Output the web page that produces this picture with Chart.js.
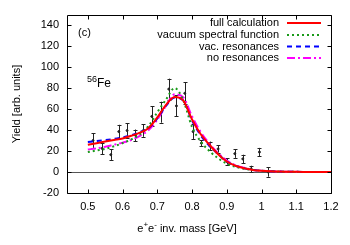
<!DOCTYPE html>
<html><head><meta charset="utf-8">
<script src="https://cdn.jsdelivr.net/npm/chart.js@4"></script>
<style>html,body{margin:0;padding:0;background:#fff}#w{width:350px;height:245px}</style>
</head><body><div id="w"><canvas id="c" width="350" height="245"></canvas></div>
<script>
// ---- data ----
const massGrid = [0.5,0.525,0.55,0.575,0.6,0.625,0.65,0.675,0.7,0.725,0.75,0.775,0.8,0.825,0.85,0.875,0.9,0.925,0.95,0.975,1.0,1.025,1.05,1.075,1.1,1.125,1.15,1.175,1.2];
const fullCalc   = [26,27.5,29,30.5,32,34.5,37.5,42,52,64,71.5,68,50,36,26,17,10,6,3.5,2,1.2,0.7,0.4,0.25,0.15,0.1,0.05,0.03,0];
const vacSpectral= [19,20.5,22,24.5,27.5,31,36,44,57,69,80,68,43,29,20,13,8,5,3,2,1.2,0.7,0.4,0.25,0.15,0.1,0.05,0.03,0];
const vacReson   = [28.5,29.5,30.5,31.5,33,35,38,42,51,63,71,68,49,35,25,17,10,6,3.5,2,1.2,0.7,0.4,0.25,0.15,0.1,0.05,0.03,0];
const noReson    = [21.5,22.5,24,26,28,30.5,34.5,40,50,63,74,71,53,38,27,18,11,6.5,4,2.2,1.3,0.8,0.45,0.25,0.15,0.1,0.05,0.03,0];
const expMass  = [0.515,0.541,0.566,0.589,0.613,0.637,0.660,0.684,0.712,0.733,0.755,0.779,0.803,0.827,0.851,0.875,0.900,0.923,0.946,0.970,0.994,1.019];
const expYield = [30,22.5,16.5,38.5,39.5,35,39.5,53,57,79,63,75,38.5,27.5,25,22,10,17.5,12.5,3,19,0];
const expErr   = [7,5.5,5,6.5,7,5.5,6,9.5,10,10,10,10.5,7,3,4,3.5,3,4,4,3,4,4.5];
const xTicks = [0.5,0.6,0.7,0.8,0.9,1.0,1.1,1.2];
const yTicks = [-20,0,20,40,60,80,100,120,140];
const seriesLabels = ['full calculation','vacuum spectral function','vac. resonances','no resonances'];

const FONT = '"Liberation Sans", Arial, Helvetica, sans-serif';
const TXT = '#000';

function xy(xs, ys){ return xs.map((x,i)=>({x:x,y:ys[i]})); }

const curveStyle = [
  {borderColor:'#ff0000', borderDash:[], borderWidth:2},
  {borderColor:'#1a9a1a', borderDash:[2,3], borderWidth:2},
  {borderColor:'#0000ff', borderDash:[5,4], borderWidth:2},
  {borderColor:'#ff00ff', borderDash:[8,3,2,3], borderWidth:2}
];
const curveData = [fullCalc, vacSpectral, vacReson, noReson];

const datasets = curveData.map((d,i)=>Object.assign({
  type:'line', label:seriesLabels[i], data:xy(massGrid,d),
  pointRadius:0, cubicInterpolationMode:'monotone', fill:false, order:1
}, curveStyle[i]));
datasets.unshift({
  type:'scatter', label:'data', data:xy(expMass,expYield), errors:expErr,
  pointRadius:1, backgroundColor:'#222', borderColor:'#222', order:5, isExp:true
});

function drawSup(ctx, parts, x, y, align, big, small){
  let w=0;
  parts.forEach(p=>{ ctx.font = (p[1]? small:big)+'px '+FONT; w+=ctx.measureText(p[0]).width; });
  let cx = align==='center'? x-w/2 : x;
  ctx.textBaseline='alphabetic'; ctx.textAlign='left';
  parts.forEach(p=>{
    ctx.font = (p[1]? small:big)+'px '+FONT;
    ctx.fillText(p[0], cx, p[1]? y-5 : y);
    cx += ctx.measureText(p[0]).width;
  });
}

const decor = {
  id:'decor',
  beforeDatasetsDraw(chart){
    const {ctx, chartArea:a, scales:{x,y}} = chart;
    ctx.save();
    ctx.strokeStyle='#555'; ctx.lineWidth=1;
    const y0 = Math.round(y.getPixelForValue(0))+0.5;
    ctx.beginPath(); ctx.moveTo(a.left,y0); ctx.lineTo(a.right,y0); ctx.stroke();
    const ds = chart.data.datasets.find(d=>d.isExp);
    ctx.strokeStyle='#222'; ctx.lineWidth=1;
    ds.data.forEach((p,i)=>{
      const px = Math.round(x.getPixelForValue(p.x))+0.5;
      const t = y.getPixelForValue(p.y+ds.errors[i]);
      const b = y.getPixelForValue(p.y-ds.errors[i]);
      ctx.beginPath();
      ctx.moveTo(px,t); ctx.lineTo(px,b);
      ctx.moveTo(px-2,Math.round(t)+0.5); ctx.lineTo(px+2,Math.round(t)+0.5);
      ctx.moveTo(px-2,Math.round(b)+0.5); ctx.lineTo(px+2,Math.round(b)+0.5);
      ctx.stroke();
    });
    ctx.restore();
  },
  afterDraw(chart){
    const {ctx, chartArea:a, scales:{x,y}} = chart;
    ctx.save();
    ctx.strokeStyle='#000'; ctx.lineWidth=1;
    const L=Math.round(a.left)+0.5, R=Math.round(a.right)+0.5, T=Math.round(a.top)+0.5, B=Math.round(a.bottom)+0.5;
    ctx.beginPath(); ctx.rect(L,T,R-L,B-T); ctx.stroke();
    ctx.beginPath();
    xTicks.forEach(v=>{ const px=Math.round(x.getPixelForValue(v))+0.5;
      ctx.moveTo(px,B); ctx.lineTo(px,B-4); ctx.moveTo(px,T); ctx.lineTo(px,T+4); });
    yTicks.forEach(v=>{ const py=Math.round(y.getPixelForValue(v))+0.5;
      ctx.moveTo(L,py); ctx.lineTo(L+4,py); ctx.moveTo(R,py); ctx.lineTo(R-4,py); });
    ctx.stroke();
    const rows=[23,35,46.5,58];
    chart.data.datasets.filter(d=>!d.isExp).forEach((d,i)=>{
      ctx.fillStyle=TXT; ctx.font='11px '+FONT; ctx.textAlign='right'; ctx.textBaseline='middle';
      ctx.fillText(d.label, 279, rows[i]);
      ctx.strokeStyle=d.borderColor; ctx.lineWidth=d.borderWidth; ctx.setLineDash(d.borderDash);
      ctx.beginPath(); ctx.moveTo(287,rows[i]); ctx.lineTo(321,rows[i]); ctx.stroke();
      ctx.setLineDash([]);
    });
    ctx.fillStyle=TXT; ctx.font='11px '+FONT; ctx.textAlign='left'; ctx.textBaseline='middle';
    ctx.fillText('(c)', 78, 33);
    drawSup(ctx, [['56',1],['Fe',0]], 87, 87, 'left', 12, 9);
    drawSup(ctx, [['e',0],['+',1],['e',0],['-',1],[' inv. mass [GeV]',0]], 187, 232, 'center', 11, 8);
    ctx.save();
    ctx.translate(17,104); ctx.rotate(-Math.PI/2);
    ctx.font='11px '+FONT; ctx.textAlign='center'; ctx.textBaseline='middle';
    ctx.fillText('Yield [arb. units]',0,0);
    ctx.restore();
    ctx.restore();
  }
};

new Chart(document.getElementById('c'), {
  data:{datasets:datasets},
  options:{
    responsive:false, animation:false,
    layout:{padding:{left:0,right:19,top:14,bottom:0}},
    plugins:{legend:{display:false}, tooltip:{enabled:false}},
    scales:{
      x:{type:'linear', min:0.44, max:1.2,
        afterBuildTicks(s){ s.ticks = xTicks.map(v=>({value:v})); },
        afterFit(s){ s.height = 52; },
        grid:{display:false, drawTicks:false}, border:{display:false},
        ticks:{padding:7, color:TXT, font:{family:FONT,size:11},
          callback:(v)=>String(Math.round(v*10)/10)}},
      y:{type:'linear', min:-20, max:150,
        afterBuildTicks(s){ s.ticks = yTicks.map(v=>({value:v})); },
        afterFit(s){ s.width = 67; },
        grid:{display:false, drawTicks:false}, border:{display:false},
        ticks:{padding:8, color:TXT, font:{family:FONT,size:11}}}
    }
  },
  plugins:[decor]
});
</script></body></html>
